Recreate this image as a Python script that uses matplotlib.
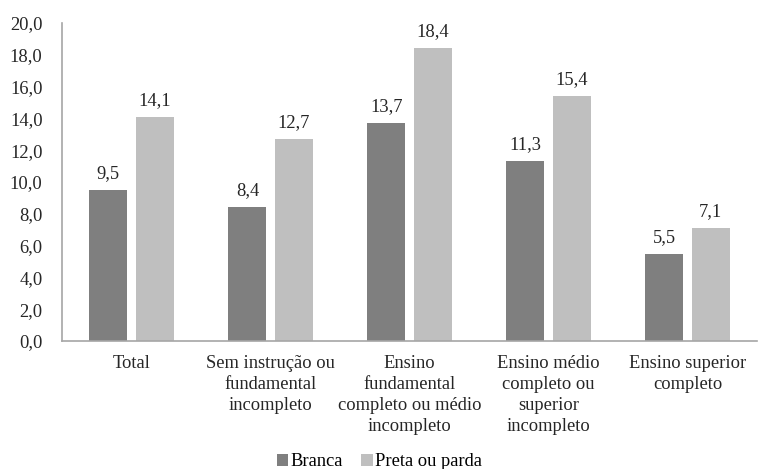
import matplotlib
matplotlib.use("Agg")
import matplotlib.pyplot as plt
import numpy as np

categories = ["Total", "Sem instrução ou\nfundamental\nincompleto",
              "Ensino\nfundamental\ncompleto ou médio\nincompleto",
              "Ensino médio\ncompleto ou\nsuperior\nincompleto",
              "Ensino superior\ncompleto"]
branca = [9.5, 8.4, 13.7, 11.3, 5.5]
preta_parda = [14.1, 12.7, 18.4, 15.4, 7.1]
series_names = ["Branca", "Preta ou parda"]
yticks = np.arange(0, 20.1, 2)

plt.rcParams["font.family"] = ["Liberation Serif", "DejaVu Serif"]
fs = 13.3

fig = plt.figure(figsize=(7.59, 4.69), dpi=100)
ax = fig.add_axes([62/759, 1-341/469, 695/759, 318/469])

x = np.arange(len(categories))
w = 0.273
off = 0.166
c1, c2 = "#7f7f7f", "#bfbfbf"
b1 = ax.bar(x - off, branca, w, color=c1, label=series_names[0])
b2 = ax.bar(x + off, preta_parda, w, color=c2, label=series_names[1])

for bars, vals in ((b1, branca), (b2, preta_parda)):
    for r, v in zip(bars, vals):
        ax.text(r.get_x() + r.get_width()/2, v + 0.5, f"{v:.1f}".replace(".", ","),
                ha="center", va="bottom", fontsize=fs, color="#262626")

ax.set_xlim(-0.5, len(categories) - 0.5)
ax.set_ylim(0, 20)
ax.set_yticks(yticks)
ax.set_yticklabels([f"{t:.1f}".replace(".", ",") for t in yticks], fontsize=fs, color="#262626")
ax.set_xticks(x)
ax.set_xticklabels(categories, fontsize=fs, color="#262626", linespacing=1.3, va="top")
ax.tick_params(length=0)
ax.tick_params(axis="y", pad=14)
ax.tick_params(axis="x", pad=10)
for s in ("top", "right"):
    ax.spines[s].set_visible(False)
for s in ("left", "bottom"):
    ax.spines[s].set_color("#a6a6a6")
    ax.spines[s].set_linewidth(1.2)

fig.legend(handles=[b1, b2], loc="lower center", bbox_to_anchor=(0.5, -0.038), ncol=2,
           frameon=False, fontsize=fs, handlelength=0.6, handleheight=0.6,
           handletextpad=0.15, columnspacing=1.0)

fig.savefig("out.png", dpi=100)
